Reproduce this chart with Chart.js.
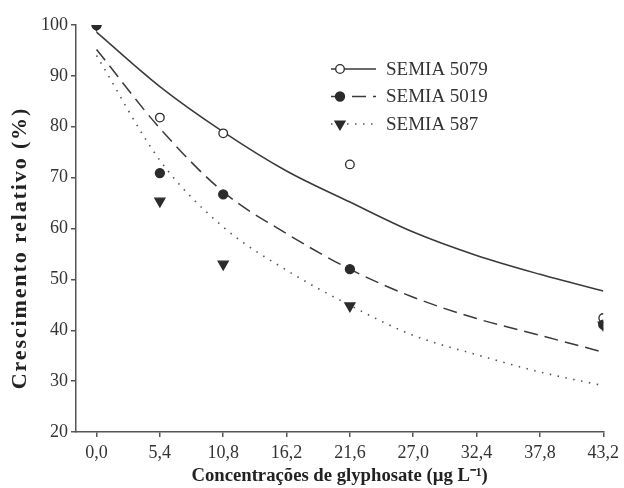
<!DOCTYPE html>
<html>
<head>
<meta charset="utf-8">
<script src="https://cdn.jsdelivr.net/npm/chart.js@4.4.1/dist/chart.umd.min.js"></script>
<style>
  html, body { margin: 0; padding: 0; background: #fff; }
  #wrap { width: 624px; height: 488px; }
</style>
</head>
<body>
<div id="wrap"><canvas id="growth"></canvas></div>
<script>
// glyphosate doses tested (µg L-1) and axis ticks
const doses = [0, 5.4, 10.8, 21.6, 43.2];
const xTicks = [0, 5.4, 10.8, 16.2, 21.6, 27.0, 32.4, 37.8, 43.2];
const yTicks = [20, 30, 40, 50, 60, 70, 80, 90, 100];
const strains = ["SEMIA 5079", "SEMIA 5019", "SEMIA 587"];

// observed relative growth (%)
const obs5079 = [100, 81.8, 78.7, 72.6, 42.4];
const obs5019 = [100, 70.9, 66.7, 52.0, 41.1];
const obs587 = [100, 65.4, 53.0, 44.8, 41.0];

// fitted curves, taken at each x tick
const fit5079 = [98.6, 87.9, 79.0, 71.3, 65.2, 59.3, 54.7, 51.0, 47.7];
const fit5019 = [95.2, 79.7, 67.2, 59.0, 52.0, 46.5, 42.3, 39.0, 35.7];
const fit587 = [94.0, 73.4, 60.3, 51.8, 44.9, 39.0, 35.2, 31.8, 29.1];

const ink = "#2b2b2b";
const serif = '"Liberation Serif", "Times New Roman", serif';

const pts = (xs, ys) => xs.map((x, i) => ({ x: x, y: ys[i] }));

const markers = [
  { pointStyle: "circle", radius: 4.3, rotation: 0, fill: "#ffffff" },
  { pointStyle: "circle", radius: 4.5, rotation: 0, fill: ink },
  { pointStyle: "triangle", radius: 5.8, rotation: 180, fill: ink }
];
const lineStyles = [
  { dash: [], width: 1.5, color: "#3a3a3a" },
  { dash: [14, 7], width: 1.5, color: "#3a3a3a" },
  { dash: [1.5, 6.5], width: 1.6, color: "#555555" }
];

const observed = [obs5079, obs5019, obs587];
const fitted = [fit5079, fit5019, fit587];

const datasets = [];
strains.forEach((name, i) => {
  datasets.push({
    label: name,
    data: pts(doses, observed[i]),
    showLine: false,
    pointStyle: markers[i].pointStyle,
    pointRadius: markers[i].radius,
    pointRotation: markers[i].rotation,
    pointBackgroundColor: markers[i].fill,
    pointBorderColor: ink,
    pointBorderWidth: 1.3,
    pointHoverRadius: markers[i].radius,
    order: 2 - i
  });
  datasets.push({
    label: name + " (ajuste)",
    data: pts(xTicks, fitted[i]),
    showLine: true,
    pointRadius: 0,
    pointHoverRadius: 0,
    borderColor: lineStyles[i].color,
    borderWidth: lineStyles[i].width,
    borderDash: lineStyles[i].dash,
    cubicInterpolationMode: "monotone",
    fill: false,
    order: 5
  });
});

// legend drawn inside the plot: line sample, marker, strain name
const legendInside = {
  id: "legendInside",
  afterDraw(chart) {
    const ctx = chart.ctx;
    const x0 = 331, x1 = 376, mx = 340, tx = 386;
    const rows = [69, 96.5, 124];
    ctx.save();
    strains.forEach((name, i) => {
      const y = rows[i];
      ctx.strokeStyle = lineStyles[i].color;
      ctx.lineWidth = lineStyles[i].width;
      ctx.setLineDash(lineStyles[i].dash);
      ctx.beginPath();
      ctx.moveTo(x0, y);
      ctx.lineTo(x1, y);
      ctx.stroke();
      ctx.setLineDash([]);
      ctx.fillStyle = markers[i].fill;
      ctx.strokeStyle = ink;
      ctx.lineWidth = 1.3;
      Chart.helpers.drawPoint(ctx, {
        pointStyle: markers[i].pointStyle,
        radius: markers[i].radius,
        rotation: markers[i].rotation,
        borderWidth: 1.3
      }, mx, y);
      ctx.fillStyle = "#333";
      ctx.font = "19px " + serif;
      ctx.textAlign = "left";
      ctx.textBaseline = "middle";
      ctx.fillText(name, tx, y + 1);
    });

    // vertical axis title, set a little wider along its length
    ctx.translate(21, 248);
    ctx.rotate(-Math.PI / 2);
    ctx.scale(1.1, 1);
    ctx.fillStyle = "#222";
    ctx.font = "bold 20px " + serif;
    ctx.letterSpacing = "1.7px";
    ctx.textAlign = "center";
    ctx.textBaseline = "middle";
    ctx.fillText("Crescimento relativo (%)", 0, 0);
    ctx.restore();
  }
};

const ctx = document.getElementById("growth").getContext("2d");

new Chart(ctx, {
  type: "scatter",
  data: { datasets: datasets },
  plugins: [legendInside],
  options: {
    responsive: true,
    maintainAspectRatio: false,
    animation: false,
    layout: { padding: { top: 25, right: 18, left: 0, bottom: 0 } },
    plugins: {
      legend: { display: false },
      tooltip: { enabled: false }
    },
    scales: {
      x: {
        type: "linear",
        min: -1.75,
        max: 43.2,
        afterBuildTicks: (scale) => {
          scale.ticks = xTicks.map(v => ({ value: v }));
        },
        afterFit: (scale) => { scale.height = 56; },
        grid: { drawOnChartArea: false, drawTicks: true, tickLength: 5, color: "#555", lineWidth: 1.5 },
        border: { display: true, color: "#555", width: 1.5 },
        ticks: {
          color: "#333",
          padding: 5,
          maxRotation: 0,
          font: { family: serif, size: 18 },
          callback: (v) => Number(v).toFixed(1).replace(".", ",")
        },
        title: {
          display: true,
          text: "Concentrações de glyphosate (µg L⁻¹)",
          color: "#222",
          font: { family: serif, size: 18.7, weight: "bold" },
          padding: { top: 0, bottom: 1 }
        }
      },
      y: {
        min: 20,
        max: 100,
        afterBuildTicks: (scale) => {
          scale.ticks = yTicks.map(v => ({ value: v }));
        },
        afterFit: (scale) => { scale.width = 76; },
        grid: { drawOnChartArea: false, drawTicks: true, tickLength: 5, color: "#555", lineWidth: 1.5 },
        border: { display: true, color: "#555", width: 1.5 },
        ticks: {
          color: "#333",
          padding: 3,
          font: { family: serif, size: 18 }
        }
      }
    }
  }
});
</script>
</body>
</html>
